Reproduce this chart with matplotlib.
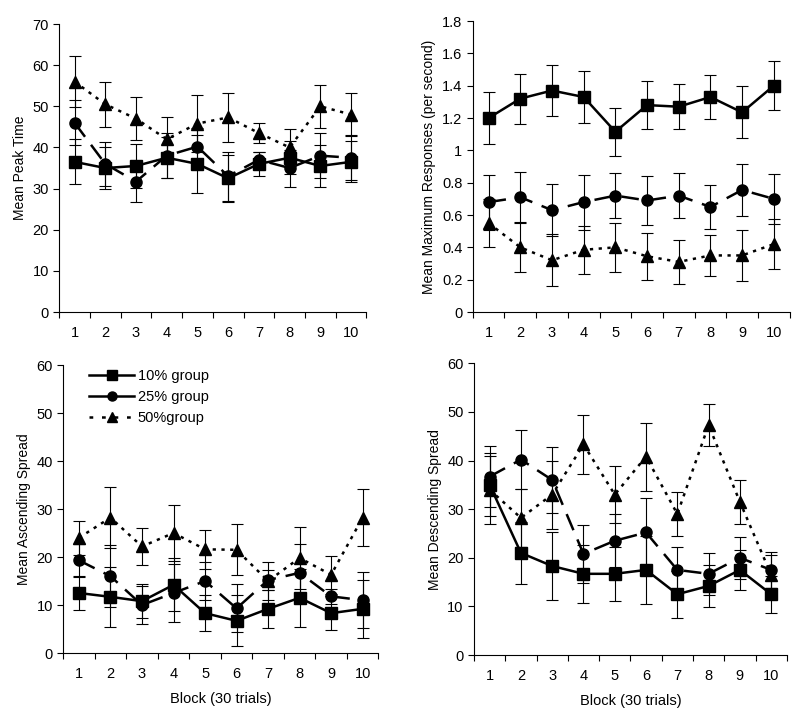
import matplotlib
matplotlib.use("Agg")
import matplotlib.pyplot as plt
from matplotlib.lines import Line2D
import numpy as np

plt.rcParams['font.family'] = ['Liberation Sans', 'DejaVu Sans']

blocks = np.arange(1, 11)
groups = ["10% group", "25% group", "50%group"]

# Mean peak time
peak_10 = [36.5, 35.0, 35.5, 37.5, 36.0, 32.5, 36.0, 37.5, 35.5, 36.5]
peak_25 = [46.0, 36.0, 31.7, 38.0, 40.2, 33.0, 37.0, 35.0, 38.0, 37.5]
peak_50 = [56.0, 50.5, 47.0, 42.0, 45.8, 47.3, 43.5, 40.0, 50.0, 48.0]
peak_10_err = [5.5, 5.0, 5.3, 5.0, 7.0, 5.7, 3.0, 4.0, 5.0, 5.0]
peak_25_err = [5.5, 5.3, 5.0, 5.5, 4.5, 6.0, 2.0, 4.5, 5.5, 5.5]
peak_50_err = [6.2, 5.5, 5.3, 5.3, 7.0, 6.0, 2.5, 4.5, 5.3, 5.3]

# Mean maximum responses (per second)
resp_10 = [1.20, 1.32, 1.37, 1.33, 1.115, 1.28, 1.27, 1.33, 1.235, 1.40]
resp_25 = [0.68, 0.71, 0.63, 0.68, 0.72, 0.69, 0.72, 0.65, 0.755, 0.70]
resp_50 = [0.55, 0.40, 0.32, 0.385, 0.40, 0.345, 0.31, 0.35, 0.35, 0.42]
resp_10_err = [0.16, 0.155, 0.16, 0.16, 0.15, 0.15, 0.14, 0.135, 0.16, 0.15]
resp_25_err = [0.17, 0.155, 0.16, 0.17, 0.14, 0.15, 0.14, 0.135, 0.16, 0.155]
resp_50_err = [0.15, 0.15, 0.16, 0.15, 0.15, 0.145, 0.135, 0.125, 0.155, 0.155]

# Mean ascending spread
asc_10 = [12.5, 11.7, 10.8, 14.2, 8.3, 6.7, 9.2, 11.5, 8.3, 9.2]
asc_25 = [19.3, 16.0, 10.0, 12.5, 15.0, 9.3, 15.2, 16.7, 11.8, 11.0]
asc_50 = [24.0, 28.2, 22.2, 25.0, 21.6, 21.5, 15.0, 19.8, 16.3, 28.2]
asc_10_err = [3.5, 6.3, 3.5, 5.5, 3.8, 5.3, 4.0, 6.0, 3.5, 6.0]
asc_25_err = [3.5, 6.5, 4.0, 6.0, 4.0, 5.0, 2.0, 6.0, 1.5, 5.8]
asc_50_err = [3.6, 6.4, 3.9, 5.8, 4.0, 5.3, 4.0, 6.4, 4.0, 5.9]

# Mean descending spread
desc_10 = [35.0, 21.0, 18.3, 16.7, 16.7, 17.5, 12.5, 14.2, 17.5, 12.5]
desc_25 = [36.7, 40.2, 36.0, 20.8, 23.5, 25.2, 17.5, 16.7, 20.0, 17.5]
desc_50 = [34.0, 28.2, 33.0, 43.3, 33.0, 40.8, 29.0, 47.3, 31.5, 16.5]
desc_10_err = [6.5, 6.3, 7.0, 6.0, 5.6, 7.0, 4.8, 4.3, 4.2, 3.8]
desc_25_err = [6.3, 6.0, 6.8, 6.0, 5.5, 7.0, 4.8, 4.3, 4.3, 3.7]
desc_50_err = [7.0, 6.0, 7.0, 6.0, 5.8, 7.0, 4.5, 4.3, 4.5, 4.0]

styles = [
    dict(marker="s", dashes=None),
    dict(marker="o", dashes=(7, 4)),
    dict(marker="^", dashes=(1.3, 2.2)),
]

panels = [
    ([peak_10, peak_25, peak_50], [peak_10_err, peak_25_err, peak_50_err],
     "Mean Peak Time", (0, 70), np.arange(0, 71, 10), "{:.0f}",
     [0.074, 0.5636, 0.384, 0.4028]),
    ([resp_10, resp_25, resp_50], [resp_10_err, resp_25_err, resp_50_err],
     "Mean Maximum Responses (per second)", (0, 1.8), np.arange(0, 1.81, 0.2), "{:g}",
     [0.591, 0.5636, 0.396, 0.407]),
    ([asc_10, asc_25, asc_50], [asc_10_err, asc_25_err, asc_50_err],
     "Mean Ascending Spread", (0, 60), np.arange(0, 61, 10), "{:.0f}",
     [0.079, 0.0867, 0.394, 0.4028]),
    ([desc_10, desc_25, desc_50], [desc_10_err, desc_25_err, desc_50_err],
     "Mean Descending Spread", (0, 60), np.arange(0, 61, 10), "{:.0f}",
     [0.5925, 0.0839, 0.391, 0.408]),
]

fig = plt.figure(figsize=(8, 7.15), dpi=100)

for k, (series, errs, ylabel, ylim, yticks, fmt, pos) in enumerate(panels):
    ax = fig.add_axes(pos)
    for vals, err, st in zip(series, errs, styles):
        ax.errorbar(blocks, vals, yerr=err, fmt="none", ecolor="black",
                    elinewidth=0.8, capsize=4, capthick=0.8, zorder=2)
        line, = ax.plot(blocks, vals, color="black", lw=1.8,
                        marker=st["marker"], markersize=8,
                        markerfacecolor="black", markeredgecolor="black",
                        zorder=3)
        if st["dashes"] is not None:
            line.set_dashes(st["dashes"])

    ax.set_xlim(0.5, 10.5)
    ax.set_ylim(*ylim)
    ax.set_yticks(yticks)
    ax.set_yticklabels([fmt.format(v) for v in yticks])
    ax.set_xticks(blocks)
    ax.set_xticks(np.arange(0.5, 11, 1), minor=True)
    ax.tick_params(axis="x", which="major", length=0, pad=10, labelsize=10.5)
    ax.tick_params(axis="x", which="minor", length=4, direction="out", width=0.8)
    ax.tick_params(axis="y", length=4, direction="out", width=0.8, labelsize=10.5)
    for s in ["top", "right"]:
        ax.spines[s].set_visible(False)
    for s in ["left", "bottom"]:
        ax.spines[s].set_linewidth(0.8)
    ax.set_ylabel(ylabel, fontsize=10)

    if k >= 2:
        ax.set_xlabel("Block (30 trials)", fontsize=10.5, labelpad=8)
    if k == 2:
        # legend handles as drawn in the original key
        handles = [
            Line2D([], [], color="black", lw=1.8, marker="s", markersize=7),
            Line2D([], [], color="black", lw=1.8, marker="o", markersize=6.5),
            Line2D([], [], color="black", lw=1.8, marker="^", markersize=7,
                   dashes=(1.5, 3.5)),
        ]
        ax.legend(handles, groups, loc="upper left", frameon=False,
                  fontsize=10.5, handlelength=3.1,
                  bbox_to_anchor=(0.04, 1.033),
                  labelspacing=0.5, handletextpad=0.25)

fig.savefig("out.png", dpi=100)
plt.close(fig)
